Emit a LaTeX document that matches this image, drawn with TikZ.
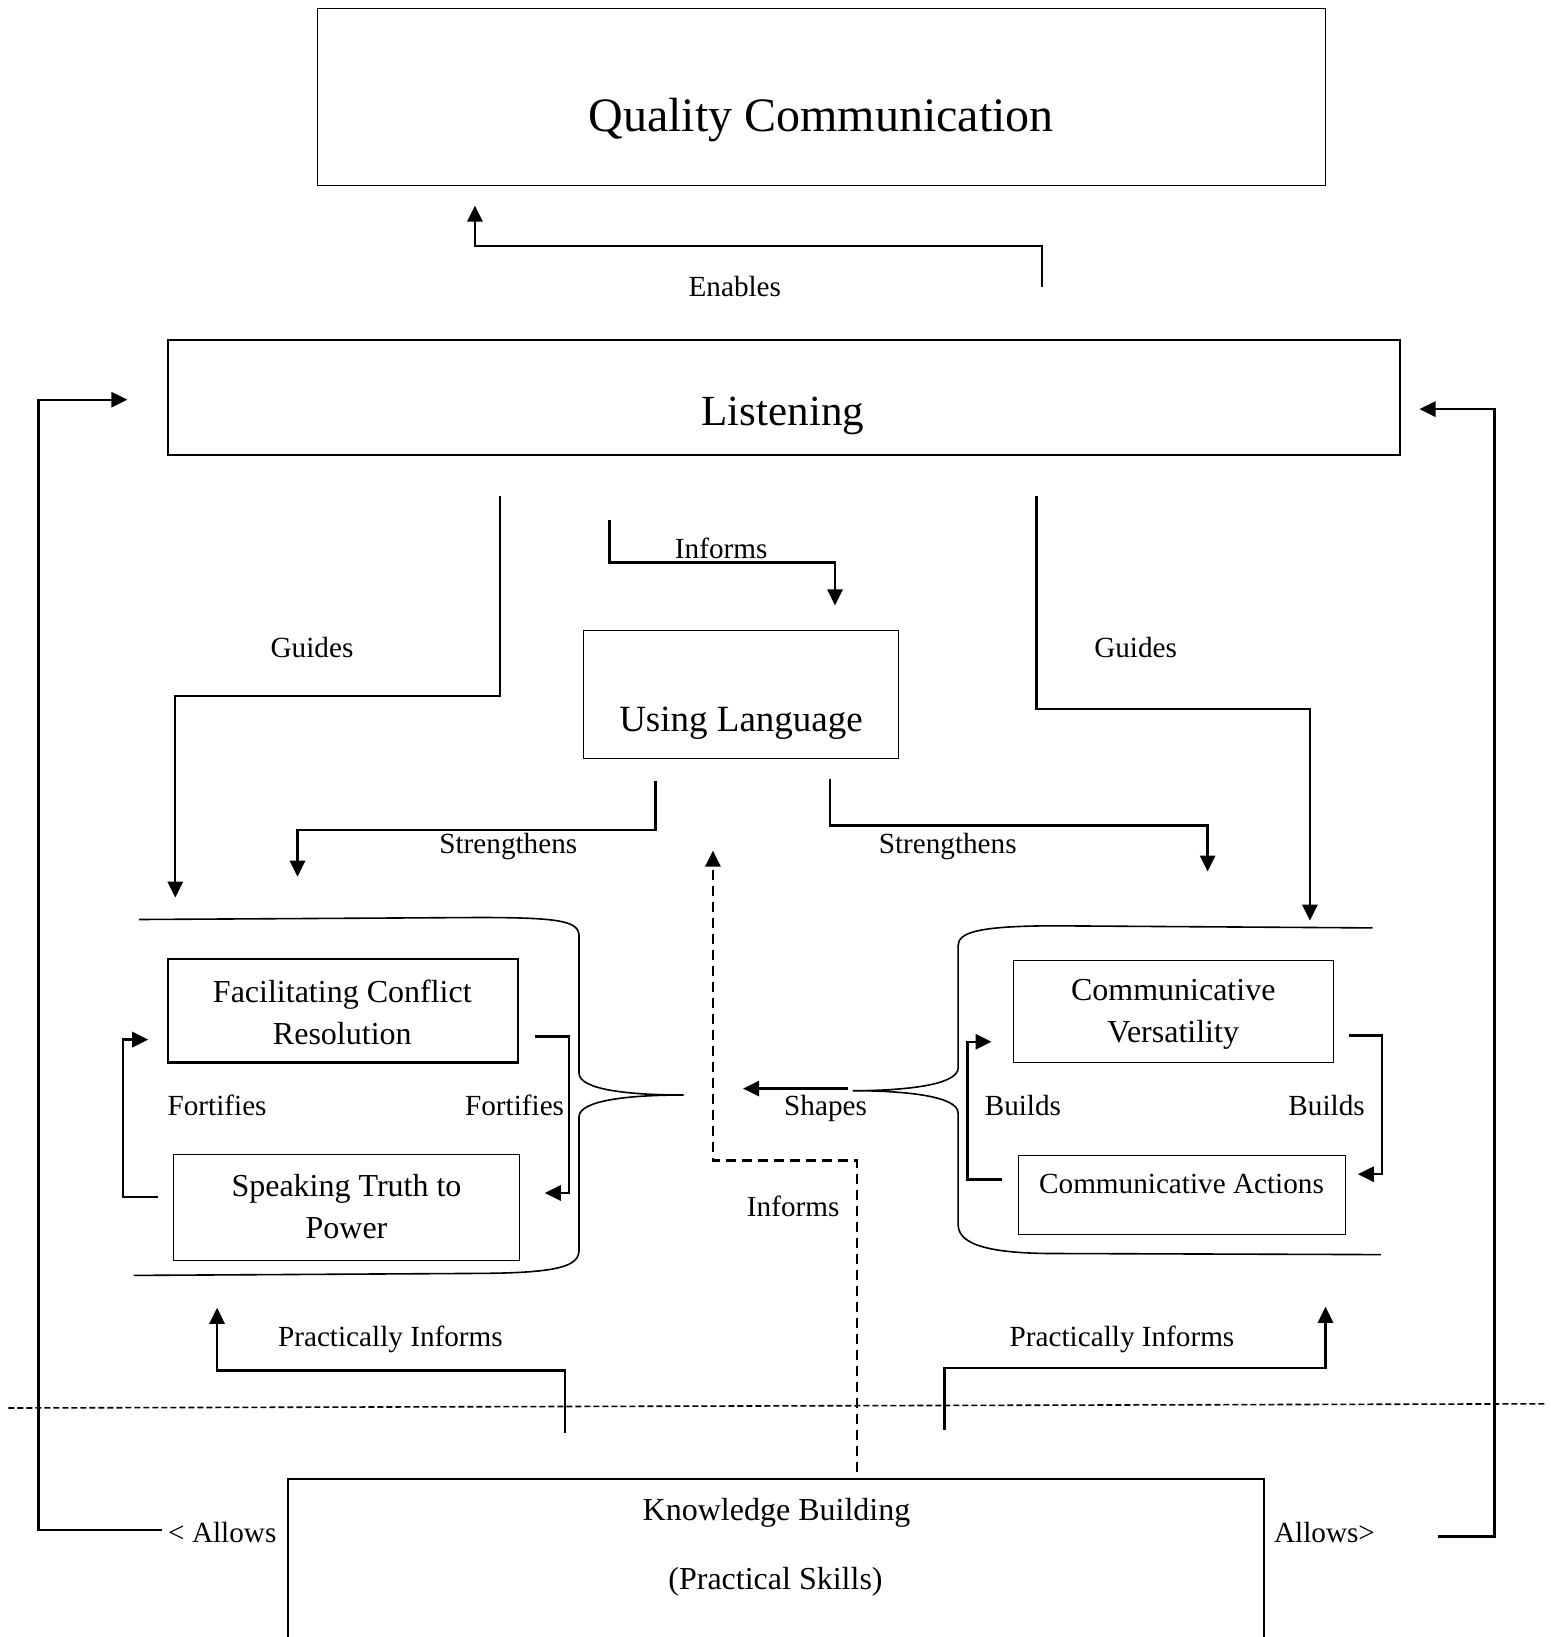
\documentclass[tikz,border=0pt]{standalone}
\usepackage{fontspec}
\setmainfont{Liberation Serif}
\usetikzlibrary{arrows.meta}
\begin{document}
\begin{tikzpicture}[x=0.5pt,y=-0.5pt,
  conn/.style={line width=1.15pt,-{Triangle[length=8pt,width=7.6pt]}},
  dconn/.style={conn,dash pattern=on 5pt off 3pt},
  box/.style={draw,line width=0.55pt,inner sep=0pt},
  tbox/.style={draw,line width=1.1pt,inner sep=0pt},
  brace/.style={line width=0.8pt},
  lbl/.style={font=\fontsize{14.6}{17}\selectfont,inner sep=0pt},
  btxt/.style={font=\fontsize{16}{20.9}\selectfont,align=center,inner sep=0pt}]
\useasboundingbox (0,0) rectangle (1551,1637);

% boxes
\node[box,minimum width=504.1pt,minimum height=88.75pt] (qc) at (821.4,97.05) {};
\node[font=\fontsize{24}{28}\selectfont,inner sep=0pt] (qct) at (821,120) {Quality Communication};

\node[tbox,minimum width=615.85pt,minimum height=57.35pt] (lis) at (783.85,397.65) {};
\node[font=\fontsize{21.5}{25}\selectfont,inner sep=0pt] (list) at (782.8,415.5) {Listening};

\node[box,minimum width=157.65pt,minimum height=64.2pt] (ul) at (741.05,694.6) {};
\node[font=\fontsize{18.5}{22}\selectfont,inner sep=0pt] (ult) at (741,722.8) {Using Language};

\node[tbox,minimum width=174.85pt,minimum height=51.65pt] (fcr) at (342.85,1010.85) {};
\node[btxt] (fcrt) at (342.3,1012) {Facilitating Conflict\\Resolution};

\node[box,minimum width=173.25pt,minimum height=53.2pt] (stp) at (346.55,1207.6) {};
\node[btxt] (stpt) at (346.5,1206.5) {Speaking Truth to\\Power};

\node[box,minimum width=160.2pt,minimum height=51.15pt] (cv) at (1173.7,1011.35) {};
\node[btxt] (cvt) at (1173.2,1014.3) {Communicative\\Versatility};

\node[box,minimum width=163.35pt,minimum height=39.65pt] (ca) at (1182.05,1195.05) {};
\node[lbl] (cat) at (1181.5,1184.2) {Communicative Actions};

\node[box,minimum width=488pt,minimum height=110.5pt] (kb) at (776,1589.5) {};
\node[btxt] (kbt1) at (776.5,1513.3) {Knowledge Building};
\node[btxt] (kbt2) at (775.5,1582.2) {(Practical Skills)};

% braces
\draw[brace] (133.6,1275.4) -- (478,1273.4) .. controls (560,1273) and (579,1266) .. (579,1250)
  -- (579,1117) .. controls (579,1100) and (630,1095) .. (683.6,1095)
  .. controls (630,1095) and (579,1090) .. (579,1073)
  -- (579,936) .. controls (579,921) and (560,917.5) .. (478,917.5) -- (139,919.5);
\draw[brace] (1372.5,927.9) -- (1054.2,925.8) .. controls (975,926) and (958.1,933) .. (958.1,946)
  -- (958.1,1068) .. controls (958.1,1085) and (905,1090.7) .. (852.7,1090.7)
  .. controls (905,1090.7) and (958.1,1096) .. (958.1,1113)
  -- (958.1,1224) .. controls (958.1,1240) and (975,1253.5) .. (1054.2,1253.5) -- (1380.9,1254.6);

% connector end points
\coordinate (en1) at (1041.7,287);   \coordinate (en2) at (474.9,205.6);
\coordinate (al1) at (161.8,1530);   \coordinate (al2) at (127.3,399.7);
\coordinate (ar1) at (1438.3,1536.4);\coordinate (ar2) at (1419.5,409.1);
\coordinate (gl1) at (500,495.8);    \coordinate (gl2) at (175.3,897.6);
\coordinate (gr1) at (1036.4,495.8); \coordinate (gr2) at (1309.9,920.6);
\coordinate (it1) at (609.5,519.8);  \coordinate (it2) at (835,605.4);
\coordinate (sl1) at (655.5,780.7);  \coordinate (sl2) at (297.5,876.7);
\coordinate (sr1) at (829.8,778.6);  \coordinate (sr2) at (1207.6,871.5);
\coordinate (di1) at (856.9,1471.7); \coordinate (di2) at (712.9,850.6);
\coordinate (sh1) at (847.5,1088.6); \coordinate (sh2) at (743.1,1088.6);
\coordinate (fl1) at (157.6,1197.2); \coordinate (fl2) at (148.2,1039.6);
\coordinate (fr1) at (535.4,1036.4); \coordinate (fr2) at (544.8,1193);
\coordinate (bl1) at (1002,1179.4);  \coordinate (bl2) at (991.5,1041.7);
\coordinate (br1) at (1348.5,1035.4);\coordinate (br2) at (1357.9,1174.2);
\coordinate (pl1) at (564.7,1433);   \coordinate (pl2) at (217.1,1307.8);
\coordinate (pr1) at (944.6,1430);   \coordinate (pr2) at (1325.5,1306.8);
\coordinate (hd1) at (8.3,1408);     \coordinate (hd2) at (1546.8,1403.8);

% connectors
\draw[conn] (en1) -- ++(0,-40.7) -| (en2);
\draw[conn] (al1) -- ++(-123.2,0) |- (al2);
\draw[conn] (ar1) -- ++(56.3,0) |- (ar2);
\draw[conn] (gl1) -- ++(0,200.4) -| (gl2);
\draw[conn] (gr1) -- ++(0,212.9) -| (gr2);
\draw[conn] (it1) -- ++(0,42.8) -| (it2);
\draw[conn] (sl1) -- ++(0,49.1) -| (sl2);
\draw[conn] (sr1) -- ++(0,47) -| (sr2);
\draw[dconn] (di1) -- ++(0,-311.1) -| (di2);
\draw[conn] (sh1) -- (sh2);
\draw[conn] (fl1) -- ++(-34.4,0) |- (fl2);
\draw[conn] (fr1) -- ++(33.4,0) |- (fr2);
\draw[conn] (bl1) -- ++(-34.5,0) |- (bl2);
\draw[conn] (br1) -- ++(33.4,0) |- (br2);
\draw[conn] (pl1) -- ++(0,-62.6) -| (pl2);
\draw[conn] (pr1) -- ++(0,-61.7) -| (pr2);
\draw[line width=0.8pt,dash pattern=on 3pt off 1.5pt] (hd1) -- (hd2);

% labels
\node[lbl] (l1) at (734.8,287) {Enables};
\node[lbl] (l2) at (312,648) {Guides};
\node[lbl] (l3) at (1135.6,648) {Guides};
\node[lbl] (l4) at (721.2,548.5) {Informs};
\node[lbl] (l5) at (508.3,846.5) {Strengthens};
\node[lbl] (l6) at (947.7,846.5) {Strengthens};
\node[lbl] (l7) at (217.1,1105.3) {Fortifies};
\node[lbl] (l8) at (514.6,1105.3) {Fortifies};
\node[lbl] (l9) at (825.6,1108.5) {Shapes};
\node[lbl] (l10) at (1022.9,1105.3) {Builds};
\node[lbl] (l11) at (1326.6,1105.3) {Builds};
\node[lbl] (l12) at (793.2,1206) {Informs};
\node[lbl] (l13) at (390.4,1339) {Practically Informs};
\node[lbl] (l14) at (1122,1339) {Practically Informs};
\node[lbl] (l15) at (222.3,1532) {< Allows};
\node[lbl] (l16) at (1324.5,1532) {Allows>};
\end{tikzpicture}
\end{document}
